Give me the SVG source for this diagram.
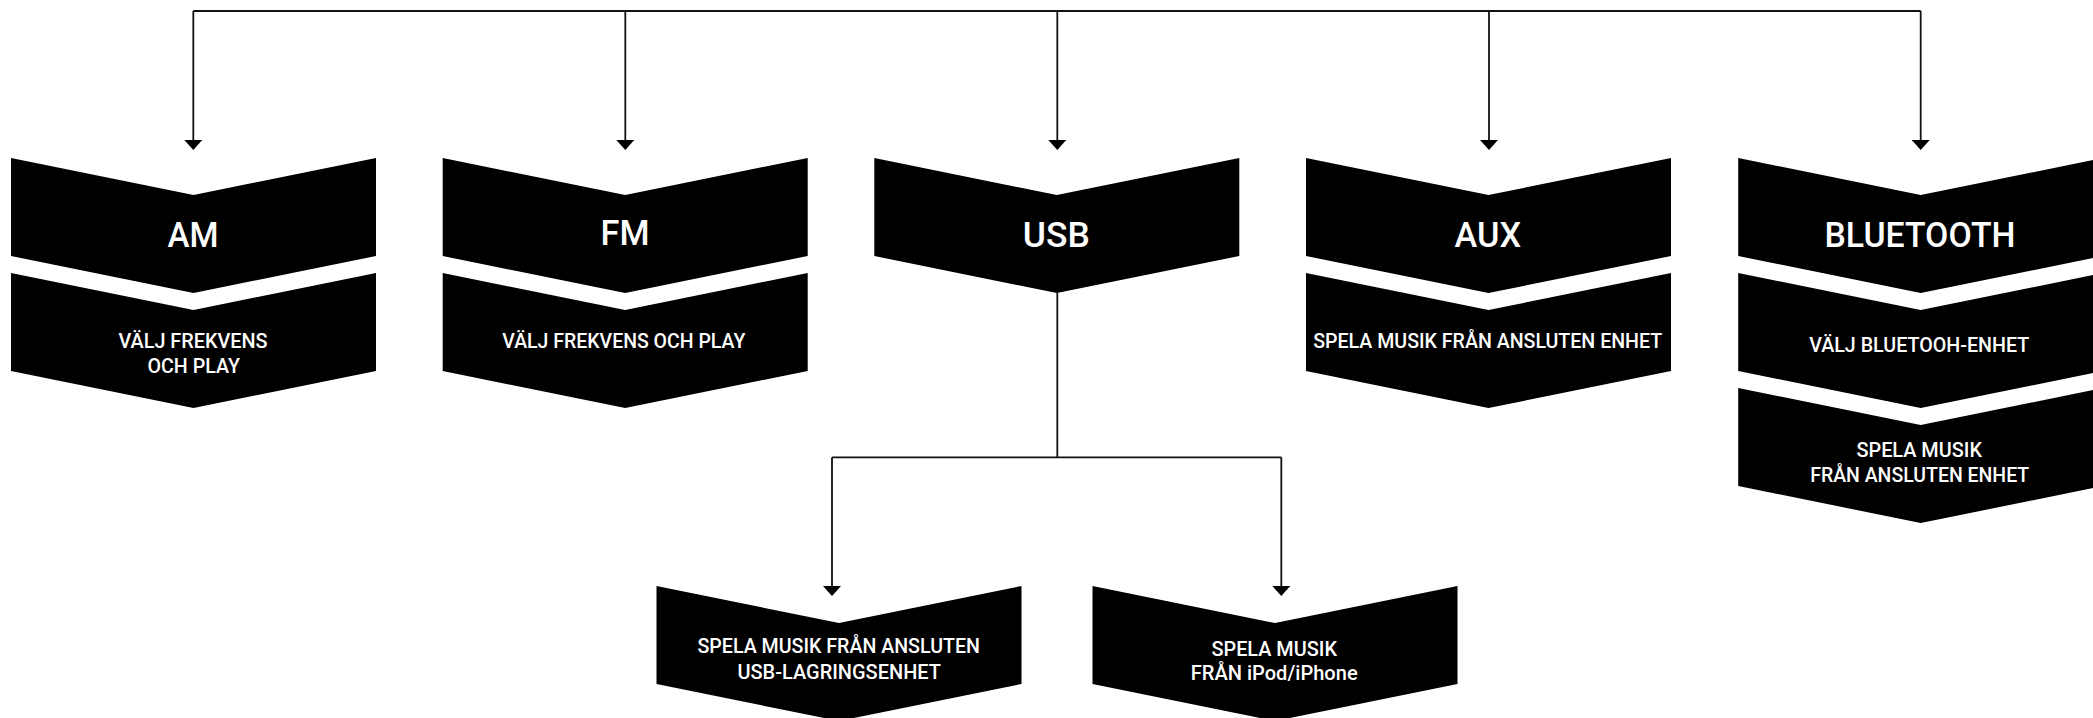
<svg xmlns="http://www.w3.org/2000/svg" xmlns:xlink="http://www.w3.org/1999/xlink" width="2093" height="718" viewBox="0 0 2093 718">
<style>
.bg{fill:#ffffff}
.blk{fill:#000000}
.ln{fill:none;stroke:#111111;stroke-width:1.8}
.t{fill:#ffffff;font-family:Roboto,"Liberation Sans",sans-serif;text-anchor:middle}
.big{font-size:35px;font-weight:500}
.sm{font-size:20px;font-weight:500}
</style>
<defs>
<path id="chev" d="M0,0 L182.5,37 L365,0 L365,98 L182.5,135 L0,98 Z"/>
<marker id="arr" markerUnits="userSpaceOnUse" viewBox="0 0 10 18" refX="0" refY="9" markerWidth="10" markerHeight="18" orient="auto">
<path d="M0,0 L10,9 L0,18 Z" fill="#000000"/>
</marker>
</defs>
<rect class="bg" x="0" y="0" width="2093" height="718"/>
<g id="connectors">
<path class="ln" d="M193.3,11 H1920.7"/>
<path class="ln" d="M193.3,11 V140" marker-end="url(#arr)"/>
<path class="ln" d="M625.3,11 V140" marker-end="url(#arr)"/>
<path class="ln" d="M1057.3,11 V140" marker-end="url(#arr)"/>
<path class="ln" d="M1489,11 V140" marker-end="url(#arr)"/>
<path class="ln" d="M1920.7,11 V140" marker-end="url(#arr)"/>
<path class="ln" d="M1057.3,293 V457.3"/>
<path class="ln" d="M832,457.3 H1281.3"/>
<path class="ln" d="M832,457.3 V586" marker-end="url(#arr)"/>
<path class="ln" d="M1281.3,457.3 V586" marker-end="url(#arr)"/>
</g>
<g id="node-am">
<use xlink:href="#chev" class="blk" x="11" y="158"/>
<text class="t big" x="193" y="247.3" textLength="51" lengthAdjust="spacingAndGlyphs">AM</text>
</g>
<g id="node-am-sub">
<use xlink:href="#chev" class="blk" x="11" y="273"/>
<text class="t sm" x="193" y="347.7" textLength="149" lengthAdjust="spacingAndGlyphs">VÄLJ FREKVENS</text>
<text class="t sm" x="193.7" y="373.3" textLength="92.5" lengthAdjust="spacingAndGlyphs">OCH PLAY</text>
</g>
<g id="node-fm">
<use xlink:href="#chev" class="blk" x="442.7" y="158"/>
<text class="t big" x="625" y="245" textLength="49" lengthAdjust="spacingAndGlyphs">FM</text>
</g>
<g id="node-fm-sub">
<use xlink:href="#chev" class="blk" x="442.7" y="273"/>
<text class="t sm" x="623.8" y="347.7" textLength="243" lengthAdjust="spacingAndGlyphs">VÄLJ FREKVENS OCH PLAY</text>
</g>
<g id="node-usb">
<use xlink:href="#chev" class="blk" x="874.3" y="158"/>
<text class="t big" x="1056.3" y="247.3" textLength="67" lengthAdjust="spacingAndGlyphs">USB</text>
</g>
<g id="node-aux">
<use xlink:href="#chev" class="blk" x="1306" y="158"/>
<text class="t big" x="1487.8" y="247.3" textLength="66.5" lengthAdjust="spacingAndGlyphs">AUX</text>
</g>
<g id="node-aux-sub">
<use xlink:href="#chev" class="blk" x="1306" y="273"/>
<text class="t sm" x="1487.7" y="348.3" textLength="349" lengthAdjust="spacingAndGlyphs">SPELA MUSIK FRÅN ANSLUTEN ENHET</text>
</g>
<g id="node-bt">
<use xlink:href="#chev" class="blk" x="1738.2" y="158"/>
<text class="t big" x="1920" y="247.3" textLength="191" lengthAdjust="spacingAndGlyphs">BLUETOOTH</text>
</g>
<g id="node-bt-sub1">
<use xlink:href="#chev" class="blk" x="1738.2" y="273"/>
<text class="t sm" x="1919.2" y="351.7" textLength="220" lengthAdjust="spacingAndGlyphs">VÄLJ BLUETOOH-ENHET</text>
</g>
<g id="node-bt-sub2">
<use xlink:href="#chev" class="blk" x="1738.2" y="388"/>
<text class="t sm" x="1919.2" y="456.7" textLength="125.5" lengthAdjust="spacingAndGlyphs">SPELA MUSIK</text>
<text class="t sm" x="1919.7" y="481.7" textLength="219" lengthAdjust="spacingAndGlyphs">FRÅN ANSLUTEN ENHET</text>
</g>
<g id="node-usb-storage">
<use xlink:href="#chev" class="blk" x="656.5" y="586"/>
<text class="t sm" x="838.7" y="653.3" textLength="282.5" lengthAdjust="spacingAndGlyphs">SPELA MUSIK FRÅN ANSLUTEN</text>
<text class="t sm" x="839.2" y="679.3" textLength="203.5" lengthAdjust="spacingAndGlyphs">USB-LAGRINGSENHET</text>
</g>
<g id="node-ipod">
<use xlink:href="#chev" class="blk" x="1092.5" y="586"/>
<text class="t sm" x="1274.2" y="656" textLength="125.5" lengthAdjust="spacingAndGlyphs">SPELA MUSIK</text>
<text class="t sm" x="1274.2" y="680" textLength="167" lengthAdjust="spacingAndGlyphs">FRÅN iPod/iPhone</text>
</g>
</svg>
